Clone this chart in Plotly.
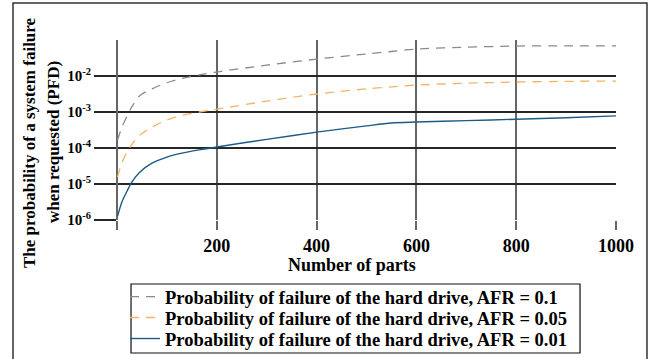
import plotly.graph_objects as go

# ---- data ----
n_parts = [1, 10, 20, 30, 45, 70, 100, 130, 165, 200, 300, 400, 500, 550, 600, 700, 800, 900, 1000]
pfd_afr_01 = [1.66e-4, 3.8e-4, 7.6e-4, 1.41e-3, 2.8e-3, 4.4e-3, 6.5e-3, 8.5e-3, 1.07e-2, 1.29e-2,
              2.0e-2, 2.95e-2, 4.1e-2, 4.8e-2, 5.6e-2, 6.3e-2, 6.8e-2, 6.85e-2, 6.9e-2]
pfd_afr_005 = [1.55e-5, 4.0e-5, 7.6e-5, 1.26e-4, 2.24e-4, 3.8e-4, 6.0e-4, 8.1e-4, 1.0e-3, 1.2e-3,
               2.0e-3, 3.16e-3, 4.4e-3, 5.0e-3, 5.6e-3, 6.3e-3, 6.8e-3, 7.1e-3, 7.2e-3]
pfd_afr_001 = [1.26e-6, 3.2e-6, 6.3e-6, 1.15e-5, 2.1e-5, 3.8e-5, 5.6e-5, 7.2e-5, 8.9e-5, 1.07e-4,
               1.74e-4, 2.75e-4, 4.12e-4, 4.95e-4, 5.25e-4, 5.75e-4, 6.3e-4, 6.9e-4, 7.8e-4]

series_names = [
    "Probability of failure of the hard drive, AFR = 0.1",
    "Probability of failure of the hard drive, AFR = 0.05",
    "Probability of failure of the hard drive, AFR = 0.01",
]
x_tickvals = [0, 200, 400, 600, 800, 1000]
x_ticktext = ["", "200", "400", "600", "800", "1000"]
y_tickvals = [1e-6, 1e-5, 1e-4, 1e-3, 1e-2]
y_ticktext = ["10<sup>-6</sup>", "10<sup>-5</sup>", "10<sup>-4</sup>", "10<sup>-3</sup>", "10<sup>-2</sup>"]

FONT = "Liberation Serif, Times New Roman, serif"

fig = go.Figure()
styles = [
    dict(color="#8a8a8a", dash="9px,7px", width=1.3),
    dict(color="#f2b366", dash="9px,7px", width=1.3),
    dict(color="#1d5a86", dash="solid", width=1.4),
]
legend_ids = ["legend", "legend2", "legend3"]
for name, vals, st, lg in zip(series_names, [pfd_afr_01, pfd_afr_005, pfd_afr_001], styles, legend_ids):
    fig.add_trace(go.Scatter(x=n_parts, y=vals, mode="lines", name=name, legend=lg,
                             line=dict(shape="spline", smoothing=0.8, **st)))

legend_font = dict(family=FONT, size=18.5, color="black", weight="bold")
row_y = [-0.4278, -0.5444, -0.6611]
legend_common = dict(x=0.016, xanchor="left", yanchor="middle", bgcolor="rgba(0,0,0,0)",
                     borderwidth=0, font=legend_font, itemwidth=30)

fig.update_layout(
    width=648, height=359,
    margin=dict(l=117, r=32, t=40, b=139, autoexpand=False),
    paper_bgcolor="white", plot_bgcolor="white",
    font=dict(family=FONT, size=18, color="black", weight="bold"),
    showlegend=True,
    legend=dict(y=row_y[0], **legend_common),
    legend2=dict(y=row_y[1], **legend_common),
    legend3=dict(y=row_y[2], **legend_common),
    xaxis=dict(range=[0, 1000], tickvals=x_tickvals, ticktext=x_ticktext,
               showgrid=True, gridcolor="#666", gridwidth=1.5,
               zeroline=True, zerolinecolor="#666", zerolinewidth=1.5,
               ticks="outside", ticklen=9, tickcolor="#666", tickwidth=1.5,
               showline=False, tickfont=dict(size=18, family=FONT, weight="bold")),
    yaxis=dict(type="log", range=[-6, -1], tickvals=y_tickvals, ticktext=y_ticktext,
               showgrid=True, gridcolor="#262626", gridwidth=1.5,
               ticks="outside", ticklen=22, tickcolor="#262626", tickwidth=1.5,
               showline=False, tickfont=dict(size=15, family=FONT, weight="bold")),
)

# axis titles
fig.add_annotation(text="Number of parts", xref="paper", yref="paper",
                   x=0.471, y=-0.25, showarrow=False, xanchor="center", yanchor="middle",
                   font=dict(family=FONT, size=18, color="black", weight="bold"))
fig.add_annotation(text="The probability of a system failure", xref="paper", yref="paper",
                   x=-0.1764, y=0.433, textangle=-90, showarrow=False,
                   xanchor="center", yanchor="middle",
                   font=dict(family=FONT, size=17, color="black", weight="bold"))
fig.add_annotation(text="when requested (PFD)", xref="paper", yref="paper",
                   x=-0.1283, y=0.433, textangle=-90, showarrow=False,
                   xanchor="center", yanchor="middle",
                   font=dict(family=FONT, size=17, color="black", weight="bold"))

# legend box
fig.add_shape(type="rect", xref="paper", yref="paper",
              x0=0.0281, x1=0.9279, y0=-0.7389, y1=-0.3556,
              line=dict(color="#111", width=1.2), fillcolor="rgba(0,0,0,0)", layer="above")
# outer frame
fig.add_shape(type="rect", xref="paper", yref="paper",
              x0=-0.2084, x1=1.0621, y0=-0.80, y1=1.2056,
              line=dict(color="#333", width=1.5), fillcolor="rgba(0,0,0,0)", layer="above")

fig.write_html("out.html", config={"displayModeBar": False},
               post_script="document.body.style.margin='0px';document.body.style.overflow='hidden';")
